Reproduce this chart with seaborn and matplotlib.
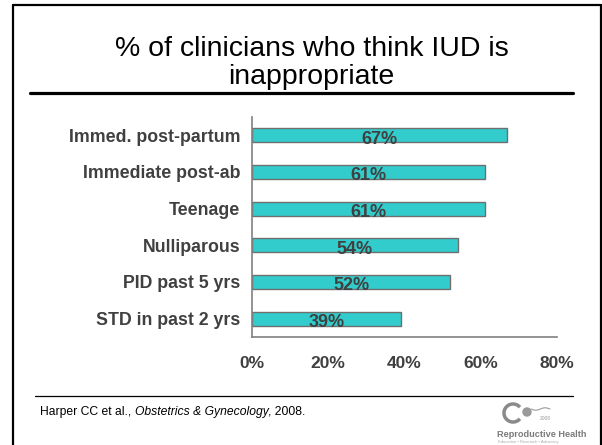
import numpy as np
import matplotlib.pyplot as plt
import seaborn as sns
import pandas as pd
from matplotlib.lines import Line2D
from matplotlib.patches import Arc, Circle

categories = [
    "Immed. post-partum",
    "Immediate post-ab",
    "Teenage",
    "Nulliparous",
    "PID past 5 yrs",
    "STD in past 2 yrs",
]
percent = [67, 61, 61, 54, 52, 39]
x_ticks = [0, 20, 40, 60, 80]
x_tick_labels = ["0%", "20%", "40%", "60%", "80%"]

title = "% of clinicians who think IUD is\ninappropriate"
source_plain = "Harper CC et al., "
source_italic = "Obstetrics & Gynecology"
source_end = ", 2008."

df = pd.DataFrame({"condition": categories, "pct": percent})

sns.set_style("white")
plt.rcParams["font.family"] = ["Liberation Sans", "DejaVu Sans"]

W, H = 602, 445
fig = plt.figure(figsize=(W / 100, H / 100), dpi=100)


def fx(px):
    return px / W


def fy(py):
    return 1 - py / H


# main axes, placed in pixel terms
ax = fig.add_axes([fx(252), fy(337), fx(557) - fx(252), fy(117) - fy(337)])
sns.barplot(
    data=df,
    x="pct",
    y="condition",
    order=categories,
    orient="h",
    color="#33CCCC",
    saturation=1,
    width=0.38,
    edgecolor="#6f6f6f",
    linewidth=1,
    ax=ax,
)
ax.set_xlim(0, 80)
ax.set_ylim(len(categories) - 0.5, -0.5)
ax.set_xlabel("")
ax.set_ylabel("")

gray = "#808080"
for side in ["top", "right"]:
    ax.spines[side].set_visible(False)
for side in ["left", "bottom"]:
    ax.spines[side].set_color(gray)
    ax.spines[side].set_linewidth(1.2)

ax.set_xticks(x_ticks)
ax.set_xticklabels(x_tick_labels, fontsize=12.5, fontweight="bold", color="#404040")
ax.tick_params(axis="x", direction="out", length=3.6, width=1, color=gray, pad=10)

ax.set_yticks(range(len(categories)))
ax.set_yticklabels(categories, fontsize=12.8, fontweight="bold", color="#404040")
ax.set_yticks(np.arange(-0.5, len(categories), 1), minor=True)
ax.tick_params(axis="y", which="major", length=0, pad=8.5)
ax.tick_params(axis="y", which="minor", direction="out", length=4.3, width=1, color=gray)

for i, v in enumerate(percent):
    ax.text(v / 2, i + 0.05, f"{v}%", ha="center", va="center_baseline",
            fontsize=13, fontweight="bold", color="#404040")

# title and rules
fig.text(fx(311.5), fy(84), title, ha="center", va="baseline", fontsize=20.5,
         color="black", linespacing=1.08)
fig.add_artist(Line2D([fx(30), fx(573)], [fy(93), fy(93)], color="black", lw=2.3))
fig.add_artist(Line2D([fx(35), fx(573)], [fy(396), fy(396)], color="black", lw=0.9))

# slide border
fig.add_artist(Line2D([fx(13), fx(13)], [fy(5), 0], color="black", lw=1.6))
fig.add_artist(Line2D([fx(13), fx(601)], [fy(5), fy(5)], color="black", lw=1.6))
fig.add_artist(Line2D([fx(600.5), fx(600.5)], [fy(5), 0], color="black", lw=1.6))

# citation with italic journal name
renderer = fig.canvas.get_renderer()
x = fx(40)
for txt, style in [(source_plain, "normal"), (source_italic, "italic"), (source_end, "normal")]:
    t = fig.text(x, fy(415), txt, ha="left", va="baseline", fontsize=8.7,
                 style=style, color="black")
    bb = t.get_window_extent(renderer=renderer)
    x += bb.width / W

# logo
lax = fig.add_axes([fx(495), fy(445), fx(600) - fx(495), fy(395) - fy(445)])
lax.set_xlim(495, 600)
lax.set_ylim(445, 395)
lax.axis("off")
lax.add_patch(Arc((513, 413), 18, 18, theta1=40, theta2=320, color="#8a8a8a", lw=2.5))
lax.add_patch(Circle((527, 412), 4, color="#9a9a9a"))
wave_x = np.linspace(531, 550, 30)
lax.plot(wave_x, 409 + 1.2 * np.sin((wave_x - 531) / 3.0), color="#9a9a9a", lw=0.8)
lax.text(540, 419, "2008", fontsize=3.5, color="#9a9a9a", ha="left", va="center")
lax.text(497, 437, "Reproductive Health", fontsize=6.6, fontweight="bold",
         color="#7a7a7a", ha="left", va="baseline")
lax.text(498, 443, "Education \u2022 Research \u2022 Advocacy", fontsize=3.0,
         color="#aaaaaa", ha="left", va="baseline")

fig.savefig("out.png", dpi=100, facecolor="white")
